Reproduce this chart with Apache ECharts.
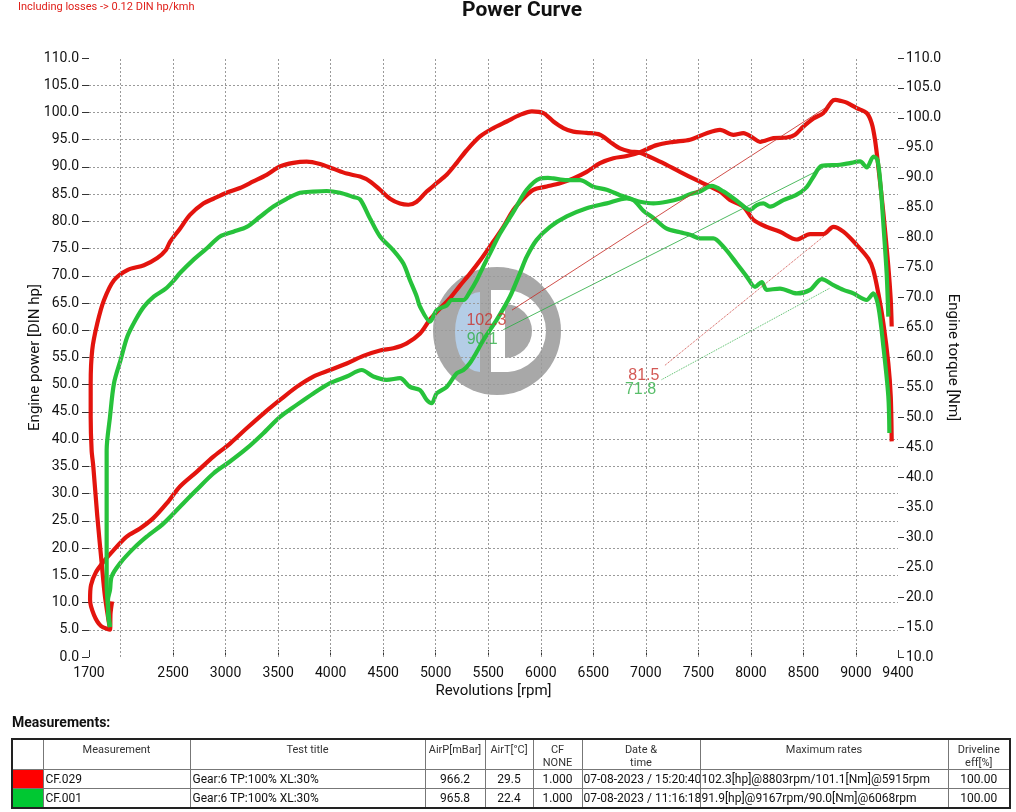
<!DOCTYPE html>
<html>
<head>
<meta charset="utf-8">
<title>Power Curve</title>
<script src="https://cdn.jsdelivr.net/npm/echarts@6.0.0/dist/echarts.min.js"></script>
<style>
  html, body { margin: 0; padding: 0; background: #fff; }
  #logo { position: absolute; left: 0; top: 0; width: 1016px; height: 812px; }
  #chart { position: absolute; left: 0; top: 0; width: 1016px; height: 812px; }
  #measTitle { position: absolute; left: 12px; top: 714px; font: bold 14px Roboto, sans-serif; color: #111; }
  #meas { position: absolute; left: 11px; top: 738px; width: 998px; border-collapse: collapse; table-layout: fixed;
          font-family: Roboto, sans-serif; color: #111; border: 2px solid #222; }
  #meas td, #meas th { border: 1px solid #777; padding: 0 2px; white-space: nowrap; overflow: hidden; font-size: 12px; }
  #meas th { font-weight: normal; font-size: 11px; color: #333; vertical-align: top; padding-top: 3px; line-height: 13px; height: 26px; }
  #meas td { height: 18px; line-height: 18px; }
  #meas td.c { text-align: center; }
  #meas td.l { text-align: left; }
  #meas td.sw { padding: 0; }
</style>
</head>
<body>
<!-- watermark logo, sits behind the transparent chart canvas -->
<svg id="logo" width="1016" height="812">
  <circle cx="497" cy="331" r="64" fill="#a8a8a8"/>
  <path d="M480,292 A25,40 0 0 0 480,372 Z" fill="#b4cde6"/>
  <path d="M491,290 L505,290 A41,41 0 0 1 505,372 L491,372 Z" fill="#ffffff"/>
  <path d="M505,304 A27,27 0 0 1 505,358 Z" fill="#a8a8a8"/>
</svg>
<div id="chart"></div>
<div id="measTitle">Measurements:</div>
<table id="meas"></table>
<script>
// rpm axis
const xTickLabels = [1700, 2500, 3000, 3500, 4000, 4500, 5000, 5500, 6000, 6500, 7000, 7500, 8000, 8500, 9000, 9400];
const xGridLines = [2000, 2500, 3000, 3500, 4000, 4500, 5000, 5500, 6000, 6500, 7000, 7500, 8000, 8500, 9000];

// CF.029 - power [hp] vs rpm
const redPower = [
  [1920, 10.2], [1905, 8.0], [1900, 5.0], [1814, 5.7], [1748, 7.7], [1710, 10.5], [1719, 13.2], [1767, 15.6],
  [1843, 17.6], [1928, 19.5], [2059, 22.1], [2186, 23.6], [2312, 25.5], [2439, 28.2], [2566, 31.3], [2725, 34.0],
  [2884, 36.8], [3042, 39.2], [3201, 42.0], [3360, 44.7], [3518, 47.2], [3677, 49.6], [3835, 51.5], [3994, 52.7],
  [4153, 53.9], [4311, 55.3], [4470, 56.3], [4597, 56.7], [4724, 57.6], [4851, 59.4], [4946, 62.0], [5041, 64.0],
  [5136, 65.9], [5231, 68.2], [5326, 70.4], [5422, 72.8], [5549, 76.3], [5644, 79.0], [5739, 82.1], [5834, 84.2],
  [5929, 85.8], [6056, 86.4], [6183, 87.0], [6310, 87.9], [6437, 89.1], [6564, 90.7], [6691, 91.6], [6818, 92.0],
  [6944, 92.7], [7103, 94.0], [7262, 94.6], [7420, 95.0], [7579, 96.2], [7706, 96.8], [7833, 95.9], [7928, 96.2],
  [8023, 95.3], [8087, 94.6], [8214, 95.3], [8341, 95.4], [8420, 95.9], [8499, 97.4], [8595, 98.9], [8690, 99.9],
  [8769, 102.0], [8803, 102.3], [8860, 102.1], [8912, 101.8], [9007, 100.8], [9102, 99.9], [9150, 98.0],
  [9181, 95.0], [9213, 90.0], [9261, 81.5], [9308, 71.7], [9331, 65.6], [9340, 60.7]
];

// CF.029 - torque [Nm] vs rpm
const redTorque = [
  [1900, 14.6], [1852, 20.1], [1821, 25.6], [1779, 33.5], [1741, 41.8], [1725, 44.5], [1716, 50.1], [1716, 55.7],
  [1731, 61.3], [1779, 65.7], [1843, 69.6], [1938, 72.9], [2065, 74.6], [2223, 75.4], [2350, 76.6], [2430, 77.9],
  [2471, 79.3], [2566, 81.5], [2661, 83.8], [2788, 85.7], [2884, 86.5], [3010, 87.5], [3137, 88.3], [3264, 89.4],
  [3391, 90.5], [3518, 91.9], [3645, 92.5], [3772, 92.7], [3899, 92.3], [4026, 91.5], [4153, 90.7], [4280, 90.2],
  [4375, 89.4], [4470, 88.0], [4565, 86.5], [4660, 85.7], [4740, 85.5], [4819, 86.0], [4914, 87.7], [5009, 89.1],
  [5104, 90.5], [5200, 92.5], [5295, 94.6], [5422, 96.9], [5549, 98.3], [5676, 99.4], [5802, 100.5], [5915, 101.1],
  [6025, 100.8], [6120, 99.4], [6215, 98.3], [6310, 97.7], [6437, 97.5], [6564, 97.2], [6659, 96.0], [6754, 94.9],
  [6850, 94.4], [6944, 94.2], [7135, 92.7], [7325, 91.0], [7484, 89.6], [7579, 88.8], [7706, 87.7], [7801, 86.3],
  [7928, 85.2], [8023, 83.0], [8150, 81.8], [8277, 81.0], [8436, 79.7], [8563, 80.6], [8690, 80.6], [8785, 81.8],
  [8880, 81.0], [9007, 78.8], [9118, 76.5], [9165, 74.6], [9213, 70.7], [9261, 65.7], [9308, 59.0], [9331, 53.5],
  [9340, 46.0]
];

// CF.001 - power [hp] vs rpm
const greenPower = [
  [1900, 5.5], [1881, 8.1], [1881, 10.5], [1900, 12.3], [1916, 14.8], [1995, 17.2], [2122, 19.9], [2249, 22.1],
  [2408, 24.5], [2566, 27.6], [2725, 30.7], [2884, 33.7], [3042, 35.9], [3201, 38.3], [3360, 41.1], [3518, 44.1],
  [3677, 46.3], [3835, 48.4], [3994, 50.3], [4153, 51.5], [4296, 52.7], [4406, 51.5], [4533, 50.9], [4660, 51.2],
  [4755, 49.6], [4851, 49.0], [4914, 47.2], [4962, 46.6], [5009, 48.4], [5104, 49.6], [5200, 52.1], [5263, 52.7],
  [5326, 54.0], [5390, 56.0], [5453, 58.2], [5580, 61.9], [5707, 66.2], [5802, 70.5], [5866, 73.5], [5961, 76.6],
  [6088, 79.0], [6247, 80.9], [6437, 82.4], [6627, 83.3], [6818, 84.2], [6945, 83.6], [7072, 83.3], [7199, 83.6],
  [7326, 84.2], [7420, 85.0], [7516, 85.5], [7627, 86.5], [7738, 85.5], [7865, 83.8], [7992, 82.1], [8055, 83.0],
  [8118, 83.3], [8182, 82.7], [8309, 83.9], [8436, 84.9], [8531, 86.3], [8595, 88.2], [8674, 90.2], [8848, 90.4],
  [8943, 90.7], [9039, 91.0], [9102, 89.9], [9167, 91.9], [9204, 91.3], [9235, 86.4], [9267, 77.8], [9292, 70.5],
  [9308, 62.5]
];

// CF.001 - torque [Nm] vs rpm
const greenTorque = [
  [1900, 15.0], [1868, 22.3], [1868, 33.5], [1868, 44.5], [1900, 50.1], [1938, 55.7], [2001, 59.6], [2065, 63.5],
  [2144, 66.3], [2223, 68.5], [2319, 70.2], [2430, 71.5], [2509, 72.9], [2566, 74.1], [2693, 76.3], [2820, 78.2],
  [2947, 80.2], [3074, 81.0], [3201, 81.8], [3328, 83.5], [3455, 85.2], [3582, 86.5], [3709, 87.5], [3835, 87.7],
  [3962, 87.8], [4089, 87.5], [4216, 86.8], [4280, 86.4], [4375, 83.2], [4470, 80.2], [4597, 77.9], [4692, 75.7],
  [4755, 72.9], [4819, 70.2], [4850, 68.5], [4946, 66.0], [5009, 67.9], [5104, 68.7], [5152, 69.6], [5263, 69.6],
  [5326, 71.0], [5390, 72.9], [5453, 75.2], [5517, 77.4], [5612, 80.7], [5739, 84.3], [5866, 88.0], [5993, 89.9],
  [6068, 90.0], [6120, 89.9], [6247, 89.6], [6374, 89.6], [6500, 88.5], [6627, 88.0], [6754, 87.1], [6881, 86.3],
  [6976, 84.5], [7072, 83.3], [7199, 81.5], [7326, 80.9], [7420, 80.5], [7516, 79.9], [7642, 79.9], [7738, 78.5],
  [7865, 75.7], [7960, 73.5], [8039, 71.8], [8103, 72.6], [8150, 71.3], [8277, 71.5], [8436, 70.7], [8563, 71.3],
  [8674, 73.1], [8785, 72.1], [8880, 71.3], [8975, 70.7], [9102, 69.6], [9165, 70.7], [9213, 68.5], [9261, 61.8],
  [9308, 53.5], [9318, 47.4]
];

// cursor read-outs: text, start point, end point (power ones on hp axis, torque ones on Nm axis)
const markerTexts = ['102.3', '90.1', '81.5', '71.8'];
const markerFrom = [[5726, 63.7], [5643, 60.1], [7182, 58.7], [7150, 56.3]];
const markerTo = [[8770, 101.6], [8686, 89.8], [8769, 81.3], [8753, 71.6]];
const markerAxis = [0, 0, 1, 1];

// measurement table
const runNames = ['CF.029', 'CF.001'];
const runTitles = ['Gear:6 TP:100% XL:30%', 'Gear:6 TP:100% XL:30%'];
const airPressure = ['966.2', '965.8'];
const airTemp = ['29.5', '22.4'];
const cfFactor = ['1.000', '1.000'];
const runDates = ['07-08-2023 / 15:20:40', '07-08-2023 / 11:16:18'];
const maxRates = ['102.3[hp]@8803rpm/101.1[Nm]@5915rpm', '91.9[hp]@9167rpm/90.0[Nm]@6068rpm'];
const drivelineEff = ['100.00', '100.00'];
const tableHeads = ['', 'Measurement', 'Test title', 'AirP[mBar]', 'AirT[°C]', 'CF<br>NONE', 'Date &amp;<br>time', 'Maximum rates', 'Driveline<br>eff[%]'];

const RED = '#e3140e';
const GREEN = '#27c23b';
const swatchColors = ['#ff0000', '#00c832'];
const markerColors = ['#c8302a', '#2fae45', '#c8302a', '#2fae45'];
const markerDash = ['solid', 'solid', 'dotted', 'dotted'];

// --- table ---
const colW = [31, 147, 235, 60, 48, 49, 118, 248, 62];
let html = '<colgroup>' + colW.map(w => '<col style="width:' + w + 'px">').join('') + '</colgroup>';
html += '<tr>' + tableHeads.map(h => '<th>' + h + '</th>').join('') + '</tr>';
runNames.forEach((name, i) => {
  html += '<tr>' +
    '<td class="sw" style="background:' + swatchColors[i] + '"></td>' +
    '<td class="l">' + name + '</td>' +
    '<td class="l">' + runTitles[i] + '</td>' +
    '<td class="c">' + airPressure[i] + '</td>' +
    '<td class="c">' + airTemp[i] + '</td>' +
    '<td class="c">' + cfFactor[i] + '</td>' +
    '<td class="l" style="padding-left:1px">' + runDates[i] + '</td>' +
    '<td class="l" style="padding-left:1px">' + maxRates[i] + '</td>' +
    '<td class="c">' + drivelineEff[i] + '</td>' +
    '</tr>';
});
document.getElementById('meas').innerHTML = html;

// --- chart ---
const chart = echarts.init(document.getElementById('chart'), null, { renderer: 'canvas' });

const axisFont = { fontFamily: 'Roboto', fontSize: 14, color: '#111' };
const gridLine = { type: [2, 2], color: '#9a9a9a', width: 1 };

const curve = (name, data, color, yAxisIndex) => ({
  name: name,
  type: 'line',
  data: data,
  yAxisIndex: yAxisIndex,
  smooth: 0.3,
  symbol: 'none',
  showSymbol: false,
  lineStyle: { color: color, width: 4.2 },
  itemStyle: { color: color },
  z: 3
});

const series = [];
const rp = curve('CF.029 power', redPower, RED, 0);
rp.markLine = {
  silent: true,
  symbol: ['none', 'none'],
  label: { show: false },
  lineStyle: gridLine,
  emphasis: { disabled: true },
  data: xGridLines.map(v => ({ xAxis: v }))
};
series.push(rp);
series.push(curve('CF.029 torque', redTorque, RED, 1));
series.push(curve('CF.001 torque', greenTorque, GREEN, 1));
series.push(curve('CF.001 power', greenPower, GREEN, 0));

markerTexts.forEach((t, i) => {
  series.push({
    type: 'line',
    yAxisIndex: markerAxis[i],
    data: [markerFrom[i], markerTo[i]],
    symbol: 'none',
    lineStyle: { color: markerColors[i], width: 1, type: markerDash[i], opacity: 0.85 },
    z: 4,
    silent: true
  });
  series.push({
    type: 'scatter',
    yAxisIndex: markerAxis[i],
    data: [markerFrom[i]],
    symbolSize: 1,
    itemStyle: { color: 'rgba(0,0,0,0)' },
    label: {
      show: true,
      position: 'left',
      distance: 5,
      offset: [0, 10],
      formatter: t,
      fontFamily: 'Liberation Sans',
      fontSize: 16,
      color: markerColors[i]
    },
    z: 5,
    silent: true
  });
});

const option = {
  animation: false,
  backgroundColor: 'rgba(0,0,0,0)',
  title: [
    { text: 'Power Curve', left: 462, top: 0, padding: 0,
      textStyle: { fontFamily: 'Roboto', fontSize: 21, fontWeight: 'bold', color: '#111' } },
    { text: 'Including losses -> 0.12 DIN hp/kmh', left: 18, top: 2, padding: 0,
      textStyle: { fontFamily: 'Roboto', fontSize: 11, fontWeight: 'normal', color: '#e0201a' } }
  ],
  grid: { left: 89, right: 118, top: 58, bottom: 155, containLabel: false, outerBoundsMode: 'none' },
  xAxis: {
    type: 'value',
    min: 1700,
    max: 9400,
    name: 'Revolutions [rpm]',
    nameLocation: 'middle',
    nameGap: 27,
    nameMoveOverlap: false,
    nameTextStyle: { fontFamily: 'Roboto', fontSize: 15, color: '#111' },
    axisLine: { show: false },
    axisTick: { show: true, inside: true, length: 7, customValues: xTickLabels, lineStyle: { color: '#333' } },
    axisLabel: Object.assign({ customValues: xTickLabels, margin: 9, formatter: v => String(v) }, axisFont),
    splitLine: { show: false }
  },
  yAxis: [
    {
      type: 'value',
      min: 0,
      max: 110,
      interval: 5,
      name: 'Engine power [DIN hp]',
      nameLocation: 'middle',
      nameGap: 46,
      nameRotate: 90,
      nameMoveOverlap: false,
      nameTextStyle: { fontFamily: 'Roboto', fontSize: 15, color: '#111' },
      axisLine: { show: false },
      axisTick: { show: true, length: 7, lineStyle: { color: '#333' } },
      axisLabel: Object.assign({ margin: 10, formatter: v => v.toFixed(1) }, axisFont),
      splitLine: { show: true, showMinLine: false, showMaxLine: false, lineStyle: gridLine }
    },
    {
      type: 'value',
      position: 'right',
      min: 10,
      max: 110,
      interval: 5,
      name: 'Engine torque [Nm]',
      nameLocation: 'middle',
      nameGap: 47,
      nameRotate: -90,
      nameMoveOverlap: false,
      nameTextStyle: { fontFamily: 'Roboto', fontSize: 15, color: '#111' },
      axisLine: { show: false },
      axisTick: { show: true, length: 6, lineStyle: { color: '#333' } },
      axisLabel: Object.assign({ margin: 8, formatter: v => v.toFixed(1) }, axisFont),
      splitLine: { show: false }
    }
  ],
  series: series
};

chart.setOption(option);
</script>
</body>
</html>
